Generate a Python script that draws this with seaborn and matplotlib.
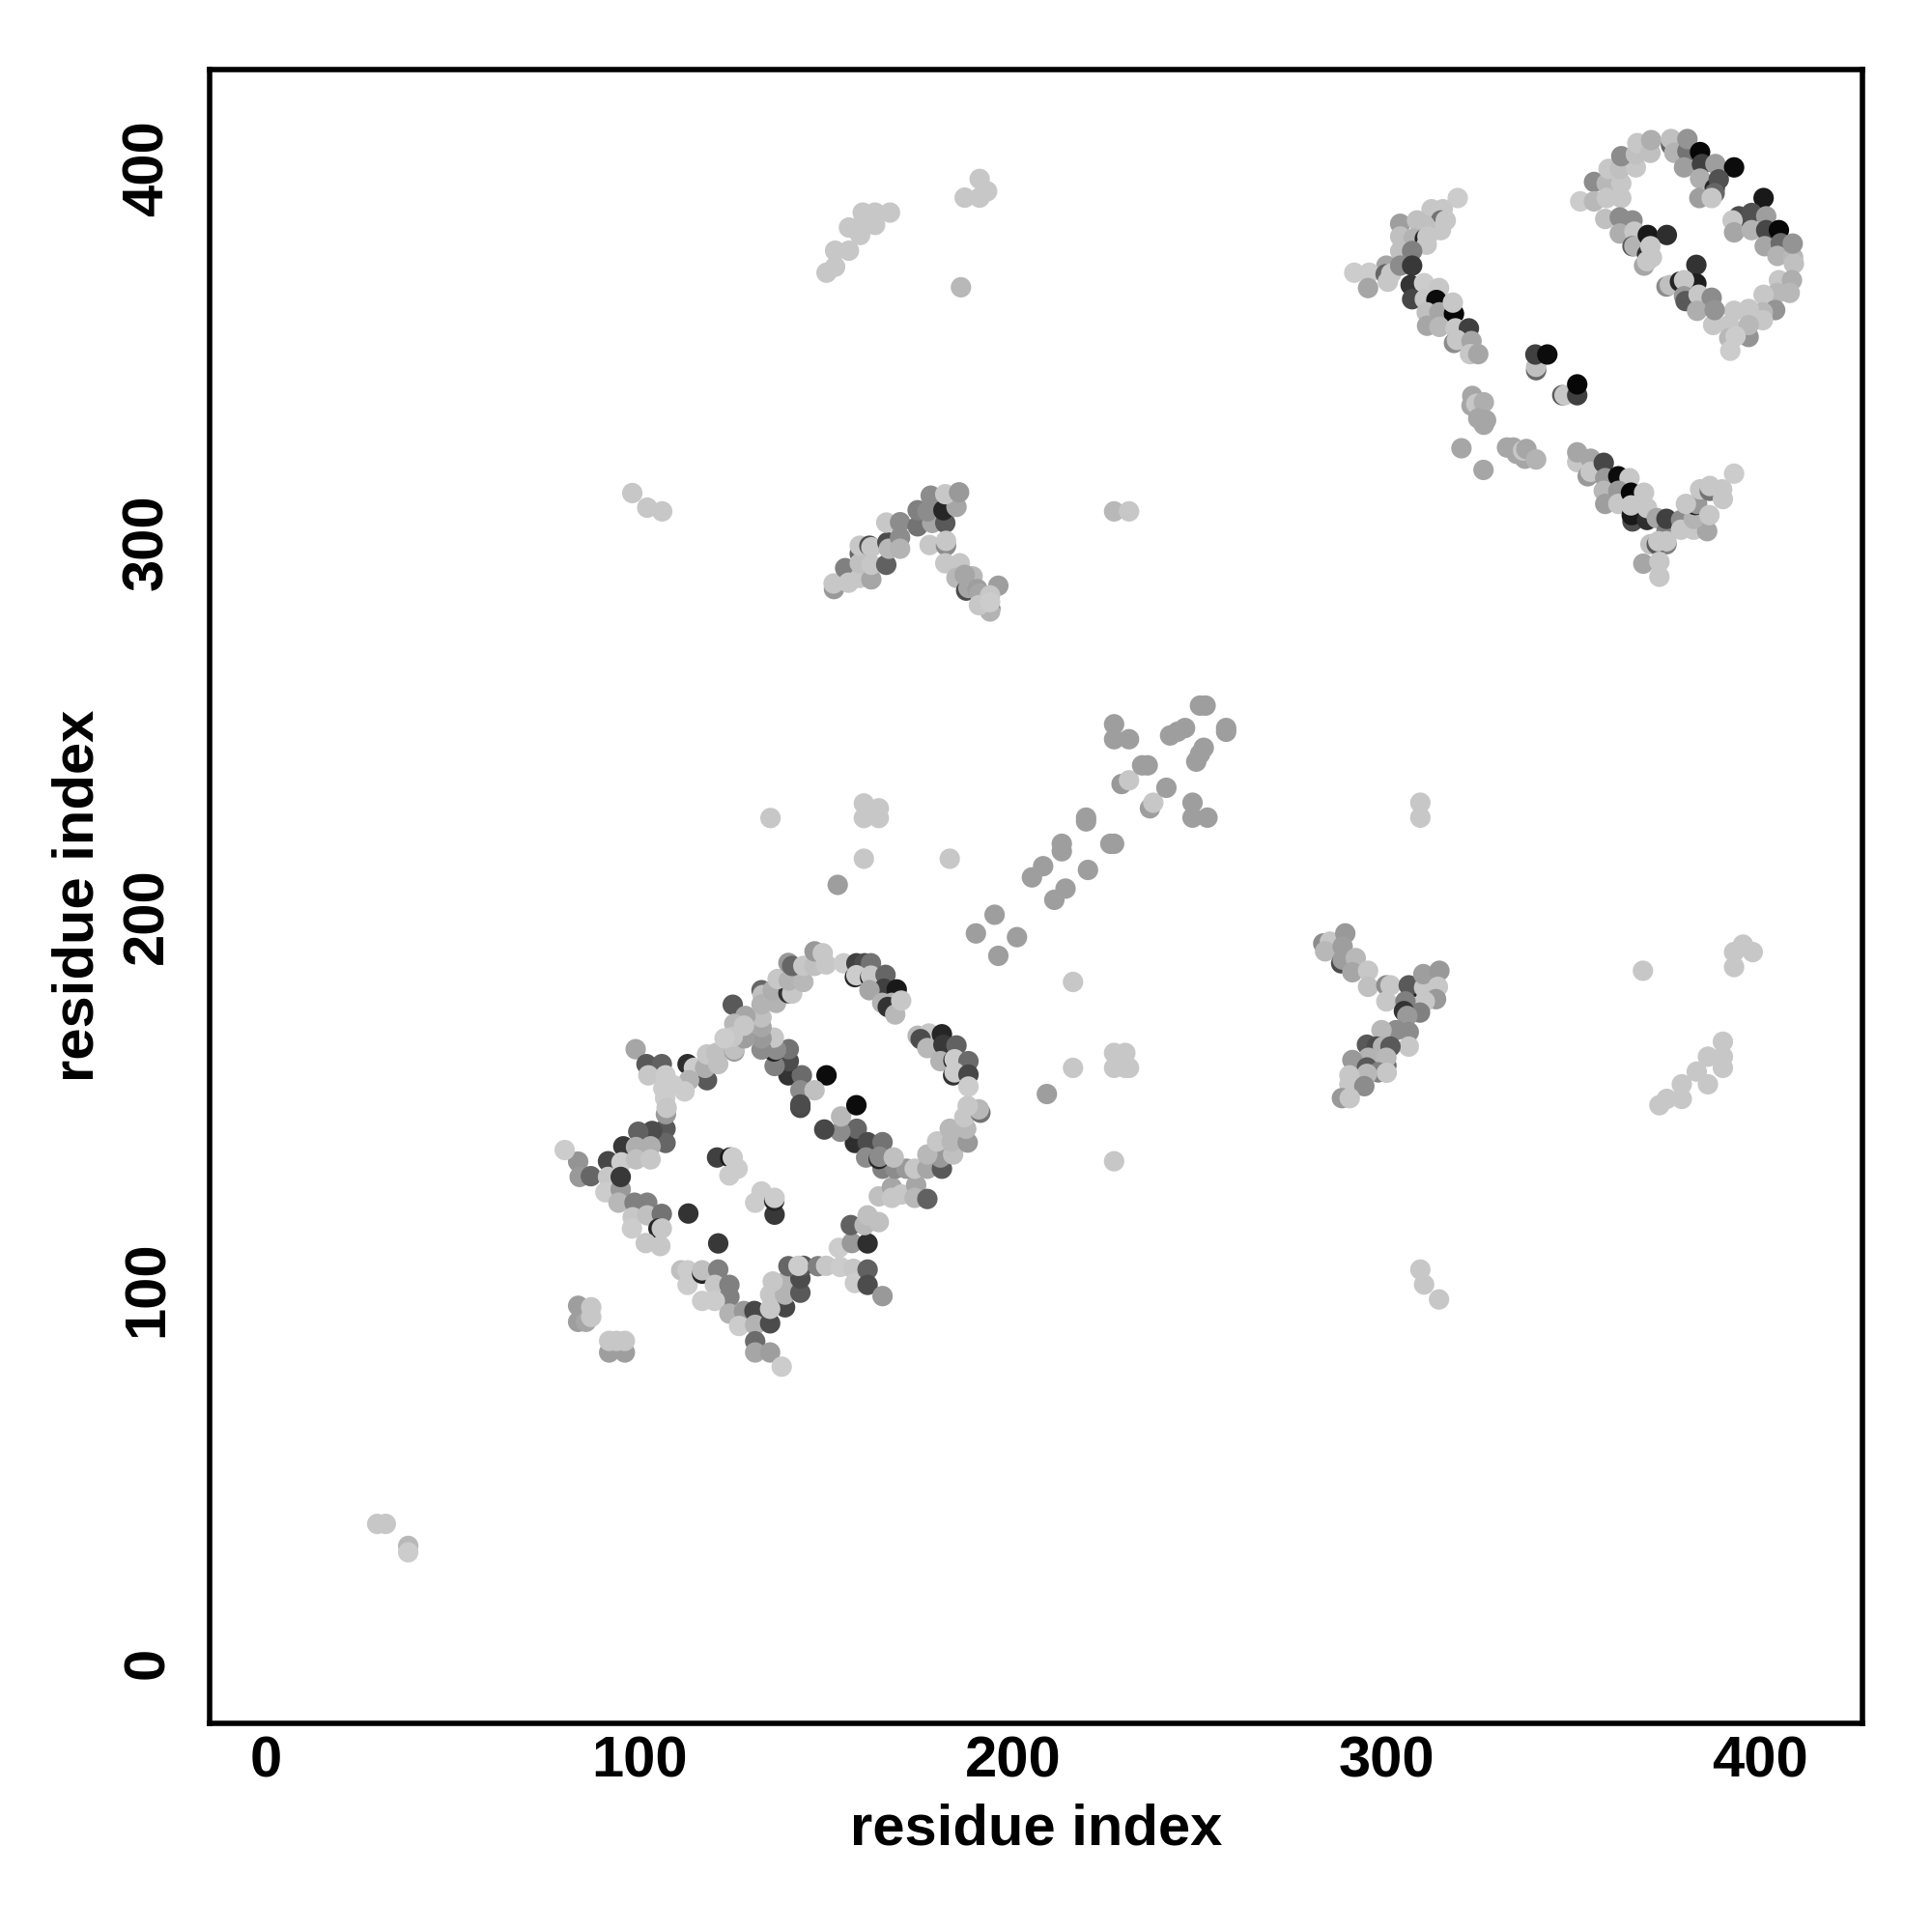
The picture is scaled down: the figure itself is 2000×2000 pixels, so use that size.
import matplotlib
matplotlib.use('Agg')
import matplotlib.pyplot as plt
from matplotlib.transforms import ScaledTranslation
import seaborn as sns
import pandas as pd

# (residue x, residue y, grey level)
low_left = [(98.9,165,.65),(101.8,161,.35),(105.9,161,.38),(102.3,158,.78),(106.9,158,.8),(112.8,161,.18),(114.5,160,.8),
    (118,156.7,.35),(117.5,160,.68),(118,163.6,.78),(120.5,164,.75),(121,161,.75),(113.2,156.7,.7),(112,153.7,.8),
    (108.9,155.4,.8),(106.3,154.5,.8),(106.9,143.7,.35),(106.9,139.9,.4),(107,147.6,.6),(106.8,151.9,.8),(107.2,149.3,.78),
    (103.3,143.1,.3),(99.6,142.9,.38),(95.6,139,.22),(99,138.8,.68),(102.9,139,.68),(91.5,135,.28),(95.1,134.7,.8),
    (99,135.5,.75),(102.9,135.5,.78),(83.5,134.9,.58),(79.9,138,.8),(83.9,130.8,.6),(86.9,131,.4),(91.5,130.8,.78),
    (90.8,126.7,.8),(94.9,127.5,.6),(94.9,130.8,.22),(94.3,123.9,.72),(98.6,123.9,.5),(102,123.9,.5),(98.1,120,.78),
    (102,120.5,.75),(105.9,120.9,.45),(105,117,.15),(105.9,117,.78),(97.9,117,.8),(101.6,113.1,.78),(105.5,112.3,.78),
    (113,121,.2),(121,113,.22)]

low_inner = [(120.7,136,.25),(124.2,136,.1),(124.9,136,.8),(126.2,133,.8),(124,131.2,.8),(132.6,126.9,.8),(130.9,123.9,.8),
    (136.1,120.7,.22),(136,124.4,.15),(136.1,125.2,.8)]

low_bottom = [(111.1,105.8,.75),(112.8,105.8,.8),(112.8,101.9,.8),(116.7,104.9,.15),(116.7,105.8,.75),(121,106,.5),
    (120.1,101.9,.78),(124,101.9,.5),(124,98.7,.5),(116.7,97.6,.8),(120.1,97.6,.8),(124,94.2,.7),(127.9,94.9,.6),
    (126.6,90.9,.8),(130.7,94.9,.28),(130.9,91.2,.7),(134.9,91.6,.3),(130.9,86.8,.42),(130.9,83.8,.65),(134.9,83.8,.62),
    (138,80,.8),(138.9,95.9,.28),(134.9,95.5,.78),(134.9,99.3,.78),(138.9,99.3,.7),(139.1,102.8,.7),(135.6,102.8,.78),
    (143,99.8,.35),(143,103.6,.3),(139.8,106.9,.4),(143.8,107,.35),(142.5,107,.8),(147.7,106.9,.5),(149.9,107,.78),
    (153.7,106.7,.8),(153.3,111.8,.8),(157.2,106.2,.78),(156.8,113.1,.6),(161,113,.18),(156.5,117.9,.38),(160.2,117.9,.72),
    (161,120.5,.75),(164,118.7,.75),(157.6,102.4,.8),(161,106,.38),(161,101.9,.3),(165,98.9,.6)]

low_right = [(164,125.6,.75),(167.5,128,.65),(167.5,125.2,.78),(170.1,126.1,.78),(174,128.6,.65),(173.6,125.2,.72),
    (177,124.9,.38),(165,133,.5),(168.4,133,.55),(171.4,133,.6),(173.6,133,.78),(177,133,.65),(180.9,133,.35),
    (180.5,136,.6),(177,136.8,.72),(183.9,136.8,.75),(179.6,140.3,.78),(183.5,140.3,.72),(187.8,140,.6),(183,143.7,.72),
    (187.4,143.7,.72),(186.9,146.8,.78),(191.2,148,.45),(190.8,148.9,.72),(187.8,149.8,.78)]

low_cross = [(157.6,139.9,.18),(158.1,143.7,.4),(153.7,142.9,.55),(149.4,143.5,.28),(153.9,147,.72),(158,150,.05),
    (161,140.1,.3),(165,140.1,.45),(160.6,136,.55),(164,135.6,.15),(164.2,136.2,.55),(168,136,.75),(150,158,.05),
    (139.8,158,.2),(143.4,158,.42),(139.9,161.8,.3),(139.9,165,.45),(136.1,160.5,.5),(135.9,164.4,.15),(136.5,164.9,.55),
    (135.9,168.1,.78),(143,154,.55),(146.8,154,.75),(143,149.3,.28),(143,150.2,.3),(132.6,164.9,.55),(132.6,167.9,.6),
    (132.6,170.9,.65),(132.6,173.5,.75)]

low_top = [(124.9,176.9,.35),(128.3,173.9,.65),(125.3,171.8,.72),(125.3,164.4,.6),(125.3,164.9,.75),(128,167.9,.62),
    (124.9,168.3,.78),(122.7,167.9,.8),(127.9,171.3,.78),(132.6,180.8,.4),(132.9,179.5,.75),(132.6,177,.7),(136.5,177.4,.7),
    (135.6,180.8,.68),(139.8,180,.2),(140.8,179.9,.78),(136.9,183.8,.78),(139.9,183.4,.7),(143.8,183,.72),(139.8,188.1,.6),
    (140.8,187.3,.4),(143.8,187.3,.78),(146.8,187.3,.75),(149.9,187.7,.78),(146.8,191.2,.6),(149,190.7,.78),(154.6,188,.8),
    (158,188,.25),(160.2,188,.3),(161.9,188,.45),(157.6,184.3,.15),(158,184.8,.8),(161.7,184.2,.1),(161.9,184.7,.78),
    (165.8,184.9,.4),(165.4,181.2,.25),(168.8,181,.1),(161.5,180.8,.65),(164.9,177.4,.7),(167.5,177.4,.7),(166.4,176.3,.2),
    (168.4,174.3,.72),(170,178,.78),(174.4,168.6,.72),(177.4,169.2,.78),(175.2,167.7,.3),(177,165.3,.72),(180.9,169,.15),
    (181.3,166.2,.22),(184.8,166,.38),(180.5,161.8,.7),(184,162,.15),(184.3,162.3,.8),(188,161.8,.42),(183.9,158,.2),
    (184.3,158.8,.8),(188,158.2,.28),(188,155,.8)]

high_left = [(319,392.9,.8),(312,389.9,.78),(315,389.9,.78),(314.5,386.9,.45),(315.8,386.9,.78),(303.6,386,.62),(308.1,386.9,.75),
    (314.5,384.3,.78),(310.2,385.6,.75),(303.6,382.6,.75),(307.2,382.1,.7),(310.2,382,.15),(310.9,382.6,.78),(310.7,380.4,.78),(303.6,378.7,.75),
    (306.8,378.7,.5),(299.9,374.8,.65),(291.3,372.9,.8),(295.3,372.9,.8),(295,368.8,.65),(299.7,372.5,.4),(300.3,370.5,.78),
    (301.2,372.7,.78),(303.6,374.8,.55),(306.8,374.8,.22),(306.4,369.6,.2),(310,370.1,.8),(306.8,365.8,.28),(314,368.8,.78),
    (310.2,365.8,.78),(313.3,365.6,.05),(310.7,362.3,.75),(314.1,362.3,.65),(318,361.9,.03),(317.7,364.9,.78),(310.8,358.7,.65),
    (314.1,358.4,.72),(318.4,358,.78),(322,358,.25),(318,354.1,.55),(318.8,354.9,.78),(322.7,354.6,.65),(322.3,351.1,.78),
    (324.5,351.1,.65)]

high_centre = [(340,346.8,.4),(340,347.7,.75),(339.8,351,.25),(343,351,.05),(347,340.1,.35),(347.6,340.1,.78),(351,340.1,.25),
    (351,343,.03),(322.9,339.9,.65),(322.7,337.3,.65),(324,337.8,.78),(326,338.2,.68),(324.5,333.9,.65),(326.6,333.4,.65),
    (326,332.2,.65),(320,325.9,.65),(325.9,320.1,.65),(332.2,326.1,.65),(333.9,326.1,.65),(334.8,324.4,.65),(337,323.1,.65),
    (336.5,325.3,.78),(337.4,325.7,.65),(340,322.9,.7)]

high_low = [(351,322.2,.78),(351,324.8,.65),(354.6,323.1,.65),(353.8,318.4,.6),(354.6,319.6,.78),(358.1,322,.28),(358.5,317.9,.6),
    (358.1,314.5,.72),(358.5,311,.62),(362,318.4,.05),(365,317.9,.78),(362,314.5,.6),(362,311,.78),(365.4,314,.03),(368.9,314,.78),
    (365.8,306.3,.3),(365.6,308,.1),(365.4,310.6,.78),(369.7,306.7,.18),(369.7,309.9,.78),(372.3,307.2,.65),(374.9,303.7,.5),
    (374.9,307,.25),(378.8,306.7,.55),(378.8,304.1,.78),(382.2,304.1,.78),(385.8,303.7,.65),(382.2,307,.7),(382.6,310.7,.15),
    (383.1,311,.6),(380.1,311,.78),(386.4,308,.78),(383.9,314.9,.78),(386.5,314.5,.45),(386.5,315.8,.78),(389.8,314.9,.78),
    (390,312.3,.78),(393,319.1,.8),(374.9,300.2,.5),(370.6,300.2,.75),(372.3,300.2,.35),(372.7,301,.78),(374.9,301,.78),
    (368.7,295,.65),(373,295.5,.78),(373,291.5,.78)]

high_arc = [(351.8,392,.8),(355.5,397.2,.55),(355.5,392,.72),(358.9,396.8,.72),(358.9,392.9,.78),(362.8,396.8,.78),(362.8,392.9,.78),
    (358.5,387.3,.75),(359.4,400.7,.78),(362.4,400.7,.75),(366.7,401.1,.78),(362.8,404.1,.55),(366.7,404.6,.75),(367.1,407.6,.78),
    (370.6,405,.75),(370.8,408.4,.68),(376.1,407.1,.4),(376.1,408.7,.75),(377,405,.7),(380.5,405.4,.45),(380.5,408.7,.58),
    (383.9,405.2,.03),(379.6,401.1,.62),(384.4,402,.25),(388,402,.62),(393,401.1,.05),(383.9,398.1,.68),(387.8,395.5,.15),
    (388.9,397.9,.32),(387.8,394.2,.4),(383.7,392.9,.62),(387,392.9,.78)]

high_arm = [(362.4,387.7,.55),(365.8,386.9,.55),(362.4,383.4,.68),(366.3,383.9,.78),(365.8,380,.35),(366.3,380,.7),(369.9,383,.1),
    (375,383,.18),(369.7,377.8,.2),(370.6,380,.78),(371,377,.78),(368.9,374.8,.65),(369.7,376,.78)]

high_right = [(400.9,392.9,.1),(394.3,388,.3),(392.6,386.9,.78),(393,383.7,.65),(397.7,388.9,.32),(401.6,388,.62),(397.7,384.3,.7),
    (401.6,384.3,.28),(405,384.3,.03),(401.2,380,.65),(405.5,380.8,.42),(404.6,377.4,.7),(408.8,377,.72),(409,375.3,.75),
    (408.7,380.7,.58),(405,370.9,.78),(408.5,370.9,.68),(404.6,367.5,.72),(407.9,367.5,.72),(400.9,367,.78),(404,362.9,.58),
    (400.7,362.3,.72),(400.7,360.2,.78),(396.9,363.2,.78),(393,362.7,.78),(387.4,358.9,.78),(391.7,358.9,.78),(396.9,355.7,.58),
    (396.9,358.9,.72),(391.7,355.4,.72),(393.4,355.9,.8),(392,352,.8),(382.9,375,.2),(382.9,370,.12),(374.9,369.2,.55),
    (375.8,369.6,.75),(378.5,370.5,.15),(379.6,370.9,.78),(379.6,366.6,.6),(380,365.3,.35),(383.5,367,.78),(387,366.2,.55),
    (383.1,362.7,.68),(387.8,362.9,.58)]

mid_upper = [(152,288.2,.6),(151.9,289.7,.78),(155,293.8,.5),(155.9,289.9,.78),(158.9,291.2,.78),(162,290.8,.65),(158.9,297.7,.4),
    (158.9,295.1,.75),(158.9,299.8,.78),(162,294.7,.78),(161.5,299.8,.3),(162,299.4,.78),(166,294.7,.38),(166.3,300.7,.3),
    (166.7,299,.72),(166,306,.78),(169.7,306.1,.55),(169.7,302,.55),(169.7,299,.7),(174.4,305,.45),(174.4,309.3,.5),
    (178.3,305.9,.65),(177.9,313.2,.55),(177,309,.55),(181.8,305.9,.35),(181.3,309.3,.15),(184.8,310.2,.65),(181.8,313.6,.78),
    (185.5,314.1,.6),(177.6,300,.78),(182,299.8,.55),(182,301.1,.78),(181.8,295.1,.78),(185.7,295.1,.78),(184.8,291.2,.72),
    (187.4,287.8,.3),(188,288.5,.65),(189.1,291.6,.72),(187,292,.65),(190.4,288.2,.62),(191,287,.65),(192,285,.65),(196,289.1,.62),
    (193.8,283,.3),(193.8,282.2,.7),(190.8,283.9,.78),(193.8,286.5,.78),(193.8,284.7,.8)]

mid_lower = [(283,193.3,.55),(284.8,193.8,.78),(283.5,191.2,.72),(288.9,196,.6),(287.8,188,.3),(288.2,192.5,.62),(288.2,189,.62),
    (291.7,189.4,.72),(290.8,185.6,.65),(295,186,.78),(295,181.7,.75),(299.9,182.1,.55),(301,182.1,.78),(299.9,177.8,.78),
    (308.6,181.5,.15),(305.9,182.1,.35),(310,181.5,.78),(309.8,185.1,.62),(314.1,186,.6),(313.7,181.7,.78),(313.2,178.4,.6),(310.2,177.8,.78),
    (305,177.8,.5),(308.9,174.8,.5),(304.6,175.2,.2),(305.5,173.9,.6),(305.9,169.6,.55),(305.9,165.7,.78),(302.5,170.1,.55),
    (298.6,170.1,.72),(294.7,166.2,.35),(297.3,165.7,.3),(299,165.7,.7),(301,165.7,.35),(295.1,162.7,.7),(299.9,160.6,.4),
    (299.9,162.7,.72),(290.8,162.1,.6),(294.7,160.1,.35),(297.7,158.8,.5),(300,158.7,.78),(294.7,158.4,.72),(290,158,.78),
    (290,155.6,.78),(294,155.1,.55),(288,151.9,.6),(290.1,151.9,.78)]

spine_fill = [(190,196,.62),(195,201,.62),(201,195,.62),(196,190,.62),(211,205,.62),(214,208,.62),(205,211,.62),(208,214,.62),
    (220,213,.62),(213,220,.62),(213,218,.62),(219.5,227,.62),(219.5,226,.62),(226,220,.62),(227,220,.62),(227,252,.62),
    (227,248,.62),(231,248,.62),(229,236,.6),(231,237,.78),(234.5,241,.62),(236,241,.62),(236.6,229.5,.62),(237.5,231,.78),
    (241,235,.62),(242,249,.62),(244,250,.62),(246,251,.62),(249,242,.62),(250,244,.62),(251,245.7,.62),(248,231,.62),
    (248,227,.62),(252,227,.62),(250,257,.62),(251.5,257,.62),(257,251,.62),(257,250,.62)]

isolated = [(29.7,37.9,.78),(32,37.9,.78),(38,32,.72),(38,30.3,.8),(83.5,96.3,.62),(83.5,92,.62),(85.6,92,.65),(87,95.9,.78),
    (87,93.3,.78),(91.8,83.8,.62),(96,83.8,.62),(91.8,86.9,.78),(93.8,86.9,.78),(96,86.9,.78),(98,313.9,.78),(102,310,.78),
    (106,309,.78),(227,309,.72),(231,309,.78),(135,226.9,.78),(160,230.8,.78),(164,229.5,.78),(160,226.9,.78),(164,226.9,.78),
    (160,216,.78),(153,209,.62),(183,216,.78),(186,369,.72),(150,372.9,.78),(152.3,374.5,.78),(152.3,378.8,.78),(156,378.8,.78),
    (156,385,.78),(158.4,385,.78),(159,383,.78),(159.7,389,.78),(163,389,.78),(163,385.7,.78),(167,389,.78),(187,393,.78),
    (191,398,.78),(191,393,.78),(193,394.7,.78),(368.6,186,.78),(393,187,.78),(393,191,.78),(395.4,193,.78),(398,191,.78),
    (373,150,.78),(375,151.7,.78),(379,151.7,.78),(379,155.6,.78),(383,159,.78),(386,155.6,.78),(386,163,.78),(390,160,.78),
    (390,163,.78),(390,167,.78),(309,231,.78),(309,227,.78),(309,106,.78),(310,102,.78),(314,98,.78),(216,183,.78),(216,160,.78),
    (209,153,.62),(227,135,.78),(227,164,.78),(227,160,.78),(230,164,.78),(230,160,.78),(231,160,.78)]

ticks = [0, 100, 200, 300, 400]

clusters = [low_left, low_inner, low_bottom, low_right, low_cross, low_top, high_left, high_centre, high_low,
            high_arc, high_arm, high_right, mid_upper, mid_lower, spine_fill, isolated]
df = pd.DataFrame([p for c in clusters for p in c], columns=['x', 'y', 'shade'])

sns.set_style('white')
plt.rcParams['font.family'] = ['Liberation Sans', 'DejaVu Sans']
plt.rcParams['font.weight'] = 'bold'
plt.rcParams['text.color'] = 'black'
plt.rcParams['axes.labelcolor'] = 'black'
plt.rcParams['xtick.labelcolor'] = 'black'
plt.rcParams['ytick.labelcolor'] = 'black'

fig = plt.figure(figsize=(10, 10), dpi=200)
ax = fig.add_axes([0.10825, 0.108, 0.856, 0.8562])
sns.scatterplot(data=df, x='x', y='y', hue='shade', hue_norm=(0, 1), palette='gray',
                s=58, linewidth=0, legend=False, ax=ax)
ax.set_xlim(-15.3, 427.5)
ax.set_ylim(-15.5, 427.4)
ax.set_xticks(ticks)
ax.set_yticks(ticks)
ax.tick_params(axis='both', length=3.4, width=1.3, color='black', labelsize=21.5)
ax.tick_params(axis='x', pad=1.2)
ax.tick_params(axis='y', pad=9.5)
# nudge the rotated labels up so they sit on their ticks
nudge = ScaledTranslation(0, 1.1 / 72, fig.dpi_scale_trans)
for lab in ax.get_yticklabels():
    lab.set_rotation(90)
    lab.set_va('center')
    lab.set_transform(lab.get_transform() + nudge)
for s in ax.spines.values():
    s.set_linewidth(2.0)
    s.set_color('black')
ax.set_xlabel('residue index', fontsize=21.5, fontweight='bold', labelpad=5.3)
ax.set_ylabel('residue index', fontsize=21.5, fontweight='bold', labelpad=6.1)
fig.savefig('out.png', dpi=200, facecolor='white')
plt.close(fig)
